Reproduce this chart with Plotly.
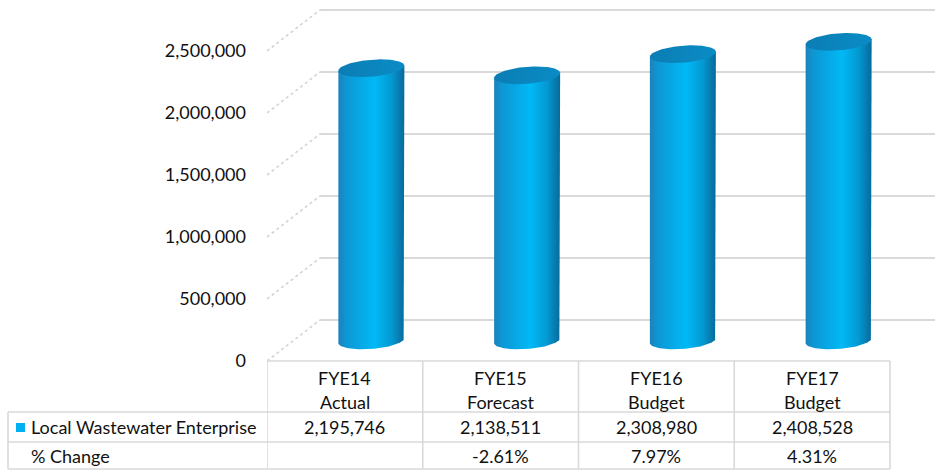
import numpy as np
import plotly.graph_objects as go

# ---- data ----
fye = ["FYE14", "FYE15", "FYE16", "FYE17"]
period = ["Actual", "Forecast", "Budget", "Budget"]
wastewater = [2195746, 2138511, 2308980, 2408528]
pct_change = ["", "-2.61%", "7.97%", "4.31%"]
y_ticks = [0, 500000, 1000000, 1500000, 2000000, 2500000]
series_name = "Local Wastewater Enterprise"
pct_label = "% Change"

# ---- geometry (axis units) ----
W, H = 935, 470
ML = 267                      # left margin in px: start of the plot area
PX_PER_CAT = 155.75           # px per category
PX_PER_VAL = 124e-6           # px per unit value
ZERO_PX = 361                 # px row of the front zero line

x0 = -0.5
x1 = x0 + (W - ML) / PX_PER_CAT
y_top = ZERO_PX / PX_PER_VAL
y_bot = -(H - ZERO_PX) / PX_PER_VAL

DX = 53 / PX_PER_CAT          # depth offset (x)
DY = 41 / PX_PER_VAL          # depth offset (y)
R = 33 / PX_PER_CAT           # cylinder radius
B = 8.5 / PX_PER_VAL          # ellipse half-height
TILT = 2.5 / PX_PER_VAL       # slight rotation of the end caps

FONT = "Lato"
FS = 18
TXT = "#111111"
GRID = "#d9d9d9"
BLUE = "#00b0f0"


def px_to_paper_y(py):
    return 1 - py / H


def px_to_paper_x(px):
    return (px - ML) / (W - ML)


fig = go.Figure()

# back wall gridlines and side-wall diagonals
gx, gy, dxs, dys = [], [], [], []
for v in y_ticks:
    gx += [x0 + DX, x1, None]
    gy += [v + DY, v + DY, None]
    dxs += [x0, x0 + DX, None]
    dys += [v, v + DY, None]
fig.add_trace(go.Scatter(x=gx, y=gy, mode="lines",
                         line=dict(color=GRID, width=2.2),
                         hoverinfo="skip", showlegend=False))
fig.add_trace(go.Scatter(x=dxs, y=dys, mode="lines",
                         line=dict(color="#d4d4d4", width=1.6, dash="dot"),
                         hoverinfo="skip", showlegend=False))

# cylinders
t_full = np.linspace(0, 2 * np.pi, 120)
t_low = np.linspace(np.pi, 2 * np.pi, 60)
for i, v in enumerate(wastewater):
    xc = i + DX / 2
    yb = DY / 2
    yt = v + DY / 2
    # body: left edge up to top cap, down right edge, around front of base
    bx = [xc - R, xc - R]
    by = [yb - TILT, yt - TILT]
    bx += [xc + R, xc + R]
    by += [yt + TILT, yb + TILT]
    tb = t_low[::-1]
    bx += list(xc + R * np.cos(tb))
    by += list(yb + B * np.sin(tb) + TILT * np.cos(tb))
    fig.add_trace(go.Scatter(
        x=bx, y=by, mode="lines", fill="toself",
        line=dict(width=0, color="rgba(0,0,0,0)"),
        fillgradient=dict(type="horizontal",
                          colorscale=[[0, "#1c82bb"], [0.12, "#0d97d4"],
                                      [0.55, "#00b9f6"], [0.8, "#0499d2"],
                                      [1, "#08699a"]]),
        hoverinfo="skip", showlegend=False))
    # top cap
    fig.add_trace(go.Scatter(
        x=list(xc + R * np.cos(t_full)),
        y=list(yt + B * np.sin(t_full) + TILT * np.cos(t_full)),
        mode="lines", fill="toself",
        line=dict(width=0, color="rgba(0,0,0,0)"),
        fillgradient=dict(type="horizontal",
                          colorscale=[[0, "#0b7db4"], [1, "#0a8cc6"]]),
        hoverinfo="skip", showlegend=False))

# ---- data table ----
shapes = []
line = dict(color=GRID, width=1.6)
row_top, row1, row2, row_end = 361, 412, 442, 469
left_px = 8
# horizontal rules
shapes.append(dict(type="line", xref="x", yref="paper", x0=x0, x1=3.5,
                   y0=px_to_paper_y(row_top), y1=px_to_paper_y(row_top), line=line))
for r in (row1, row2, row_end):
    shapes.append(dict(type="line", xref="paper", yref="paper",
                       x0=px_to_paper_x(left_px), x1=px_to_paper_x(ML + 4 * PX_PER_CAT),
                       y0=px_to_paper_y(r), y1=px_to_paper_y(r), line=line))
# vertical rules
for k in range(5):
    shapes.append(dict(type="line", xref="x", yref="paper", x0=k - 0.5, x1=k - 0.5,
                       y0=px_to_paper_y(row_top), y1=px_to_paper_y(row_end), line=line))
shapes.append(dict(type="line", xref="paper", yref="paper",
                   x0=px_to_paper_x(left_px), x1=px_to_paper_x(left_px),
                   y0=px_to_paper_y(row1), y1=px_to_paper_y(row_end), line=line))
# legend key
shapes.append(dict(type="rect", xref="paper", yref="paper",
                   x0=px_to_paper_x(16), x1=px_to_paper_x(25),
                   y0=px_to_paper_y(432), y1=px_to_paper_y(423),
                   fillcolor=BLUE, line=dict(width=0)))

ann = []


def cell(text, x, py, xref="x", xanchor="center"):
    ann.append(dict(text=text, x=x, y=px_to_paper_y(py), xref=xref, yref="paper",
                    xanchor=xanchor, yanchor="middle", showarrow=False,
                    font=dict(family=FONT, size=FS, color=TXT)))


for i in range(len(fye)):
    cell(fye[i], i, 378)
    cell(period[i], i, 402)
    cell(f"{wastewater[i]:,}", i, 427)
    cell(pct_change[i], i, 456)
cell(series_name, px_to_paper_x(29), 427, xref="paper", xanchor="left")
cell(pct_label, px_to_paper_x(29), 456, xref="paper", xanchor="left")

fig.update_layout(
    width=W, height=H,
    margin=dict(l=ML, r=0, t=0, b=0),
    paper_bgcolor="white", plot_bgcolor="white",
    showlegend=False,
    shapes=shapes, annotations=ann,
    xaxis=dict(range=[x0, x1], visible=False, fixedrange=True),
    yaxis=dict(range=[y_bot, y_top], showgrid=False, zeroline=False, showline=False,
               tickvals=y_ticks, ticktext=[f"{v:,}" for v in y_ticks],
               tickfont=dict(family=FONT, size=FS, color=TXT),
               ticks="", ticklabelstandoff=20, fixedrange=True),
)

fig.write_html("out.html")
